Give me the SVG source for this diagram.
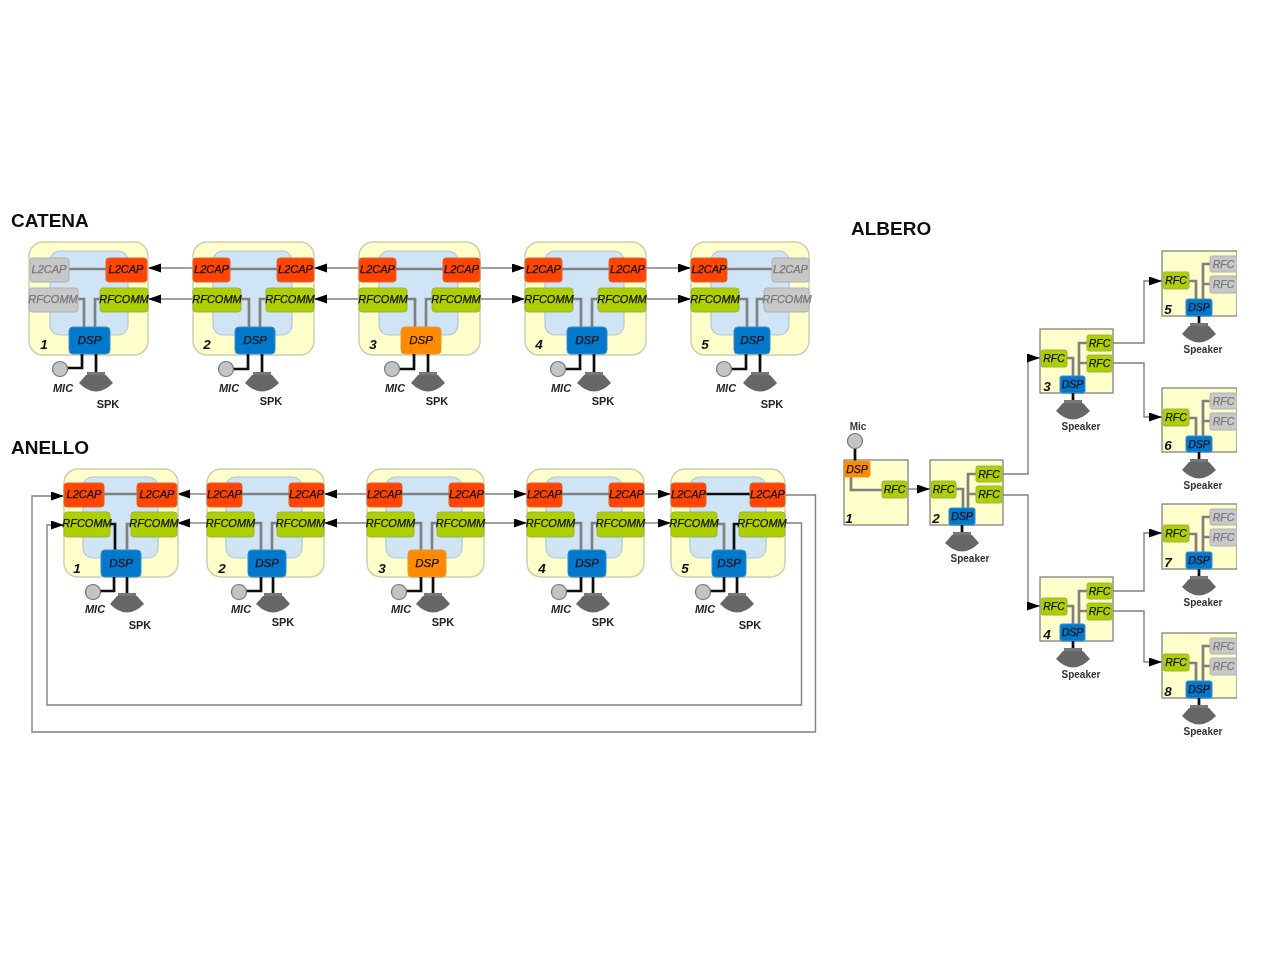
<svg xmlns="http://www.w3.org/2000/svg" width="1280" height="960" viewBox="0 0 1280 960">
<style>
text{font-family:"Liberation Sans",Arial,sans-serif;text-anchor:middle;fill:#111}
.t{font-size:19px;font-weight:bold;text-anchor:start}
.i{font-size:11px;font-style:italic;stroke:#111;stroke-width:.25}
.d{font-size:11.5px}
.r{font-size:10.5px}
.g{fill:#777;stroke:#777}
.n{font-size:13.5px;font-weight:bold;font-style:italic}
.m{font-size:11px;font-weight:bold;font-style:italic;fill:#222}
.s{font-size:11px;font-weight:bold;fill:#222}
.sp{font-size:10px;font-weight:bold;fill:#333}
.ou{fill:#ffffcc;stroke:#cfcfb0;stroke-width:1.5}
.sq{fill:#ffffcc;stroke:#777;stroke-width:1.2}
.in{fill:#cfe5f5;stroke:#b4c6d0;stroke-width:1.2}
.red{fill:#ff4400;stroke:#d9673f}
.grn{fill:#aed000;stroke:#9db050}
.blu{fill:#0078cc;stroke:#3d8fc4}
.org{fill:#ff8a00;stroke:#dd9a40}
.gry{fill:#c8c8c8;stroke:#b0b0b0}
.w{fill:none;stroke:#808080;stroke-width:2.7}
.k{fill:none;stroke:#111;stroke-width:2.7}
.c{fill:none;stroke:#808080;stroke-width:1.4}
.a{marker-end:url(#arr)}
.mc{fill:#c4c4c4;stroke:#777;stroke-width:1.2;r:7.5px}
</style>
<defs>
<marker id="arr" markerUnits="userSpaceOnUse" markerWidth="14" markerHeight="10" refX="13" refY="4.5" orient="auto"><path d="M0 0L13 4.5L0 9Z" fill="#000"/></marker>
<g id="spk"><rect x="-9" y="0" width="18" height="4" fill="#777"/><path d="M-10 3H10L17 11Q0 28 -17 11Z" fill="#666"/></g>
<filter id="b" x="0" y="0" width="100%" height="100%"><feGaussianBlur stdDeviation="0.35"/></filter>
</defs>
<g filter="url(#b)">
<g id="titles">
<text class="t" x="11" y="227">CATENA</text>
<text class="t" x="11" y="454">ANELLO</text>
<text class="t" x="851" y="235">ALBERO</text>
</g>

<g id="connectors">
<path class="c a" d="M193 268H148"/><path class="c a" d="M193 299H148"/>
<path class="c a" d="M359 268H314"/><path class="c a" d="M359 299H314"/>
<path class="c a" d="M480 268H525"/><path class="c a" d="M480 299H525"/>
<path class="c a" d="M646 268H691"/><path class="c a" d="M646 299H691"/>
<path class="c a" d="M207 494H177"/><path class="c a" d="M207 523H177"/>
<path class="c a" d="M367 494H324"/><path class="c a" d="M367 523H324"/>
<path class="c a" d="M484 494H527"/><path class="c a" d="M484 523H527"/>
<path class="c a" d="M644 494H671"/><path class="c a" d="M644 523H671"/>
<path class="c a" d="M785 495H815.500V732H32V496H64"/>
<path class="c a" d="M785 523H801.500V705H47V525H64"/>
<path class="c a" d="M907 489H930"/>
<path class="c a" d="M1003 474H1028V358H1040"/>
<path class="c a" d="M1003 495H1028V606H1040"/>
<path class="c a" d="M1113 343H1144V281H1162"/>
<path class="c a" d="M1113 363H1144V417H1162"/>
<path class="c a" d="M1113 591H1144V533H1162"/>
<path class="c a" d="M1113 611H1144V662H1162"/>
</g>

<g id="catena-1" transform="translate(29 242)">
<rect class="ou" x="0" y="0" width="119" height="113" rx="14"/><rect class="in" x="21" y="9" width="78" height="84" rx="10"/>
<path class="w" d="M40 27H78M49 57H55V85M71 57H66V85"/>
<rect class="gry" x="1" y="16" width="39" height="24" rx="3"/><text class="i g" x="20" y="31">L2CAP</text>
<rect class="red" x="77" y="16" width="41" height="24" rx="3"/><text class="i" x="97" y="31">L2CAP</text>
<rect class="gry" x="0" y="46" width="49" height="24" rx="3"/><text class="i g" x="24" y="61">RFCOMM</text>
<rect class="grn" x="71" y="46" width="48" height="24" rx="3"/><text class="i" x="95" y="61">RFCOMM</text>
<rect class="blu" x="40" y="85" width="41" height="27" rx="4"/><text class="i d" x="60.500" y="102">DSP</text>
<text class="n" x="15" y="107">1</text>
<path class="k" d="M53 112V126H38M67 112V130"/><circle class="mc" cx="31" cy="127" r="7.500"/><use href="#spk" x="67" y="130"/>
<text class="m" x="34" y="150">MIC</text><text class="s" x="79" y="166">SPK</text>
</g>

<g id="catena-2" transform="translate(193 242)">
<rect class="ou" x="0" y="0" width="121" height="113" rx="14"/><rect class="in" x="20" y="9" width="79" height="84" rx="10"/>
<path class="w" d="M37 27H85M48 57H56V85M73 57H67V85"/>
<rect class="red" x="0" y="16" width="37" height="24" rx="3"/><text class="i" x="18.500" y="31">L2CAP</text>
<rect class="red" x="84" y="16" width="37" height="24" rx="3"/><text class="i" x="102.500" y="31">L2CAP</text>
<rect class="grn" x="0" y="46" width="48" height="24" rx="3"/><text class="i" x="24" y="61">RFCOMM</text>
<rect class="grn" x="73" y="46" width="48" height="24" rx="3"/><text class="i" x="97" y="61">RFCOMM</text>
<rect class="blu" x="42" y="85" width="40" height="27" rx="4"/><text class="i d" x="62" y="102">DSP</text>
<text class="n" x="14" y="107">2</text>
<path class="k" d="M55 112V127H40M69 112V130"/><circle class="mc" cx="33" cy="127" r="7.500"/><use href="#spk" x="69" y="130"/>
<text class="m" x="36" y="150">MIC</text><text class="s" x="78" y="163">SPK</text>
</g>

<g id="catena-3" transform="translate(359 242)">
<rect class="ou" x="0" y="0" width="121" height="113" rx="14"/><rect class="in" x="20" y="9" width="79" height="84" rx="10"/>
<path class="w" d="M37 27H85M48 57H56V85M73 57H67V85"/>
<rect class="red" x="0" y="16" width="37" height="24" rx="3"/><text class="i" x="18.500" y="31">L2CAP</text>
<rect class="red" x="84" y="16" width="37" height="24" rx="3"/><text class="i" x="102.500" y="31">L2CAP</text>
<rect class="grn" x="0" y="46" width="48" height="24" rx="3"/><text class="i" x="24" y="61">RFCOMM</text>
<rect class="grn" x="73" y="46" width="48" height="24" rx="3"/><text class="i" x="97" y="61">RFCOMM</text>
<rect class="org" x="42" y="85" width="40" height="27" rx="4"/><text class="i d" x="62" y="102">DSP</text>
<text class="n" x="14" y="107">3</text>
<path class="k" d="M55 112V127H40M69 112V130"/><circle class="mc" cx="33" cy="127" r="7.500"/><use href="#spk" x="69" y="130"/>
<text class="m" x="36" y="150">MIC</text><text class="s" x="78" y="163">SPK</text>
</g>

<g id="catena-4" transform="translate(525 242)">
<rect class="ou" x="0" y="0" width="121" height="113" rx="14"/><rect class="in" x="20" y="9" width="79" height="84" rx="10"/>
<path class="w" d="M37 27H85M48 57H56V85M73 57H67V85"/>
<rect class="red" x="0" y="16" width="37" height="24" rx="3"/><text class="i" x="18.500" y="31">L2CAP</text>
<rect class="red" x="84" y="16" width="37" height="24" rx="3"/><text class="i" x="102.500" y="31">L2CAP</text>
<rect class="grn" x="0" y="46" width="48" height="24" rx="3"/><text class="i" x="24" y="61">RFCOMM</text>
<rect class="grn" x="73" y="46" width="48" height="24" rx="3"/><text class="i" x="97" y="61">RFCOMM</text>
<rect class="blu" x="42" y="85" width="40" height="27" rx="4"/><text class="i d" x="62" y="102">DSP</text>
<text class="n" x="14" y="107">4</text>
<path class="k" d="M55 112V127H40M69 112V130"/><circle class="mc" cx="33" cy="127" r="7.500"/><use href="#spk" x="69" y="130"/>
<text class="m" x="36" y="150">MIC</text><text class="s" x="78" y="163">SPK</text>
</g>

<g id="catena-5" transform="translate(691 242)">
<rect class="ou" x="0" y="0" width="118" height="113" rx="14"/><rect class="in" x="20" y="9" width="78" height="84" rx="10"/>
<path class="w" d="M36 27H82M48 57H56V85M73 57H66V85"/>
<rect class="red" x="0" y="16" width="36" height="24" rx="3"/><text class="i" x="18" y="31">L2CAP</text>
<rect class="gry" x="81" y="16" width="37" height="24" rx="3"/><text class="i g" x="99.500" y="31">L2CAP</text>
<rect class="grn" x="0" y="46" width="48" height="24" rx="3"/><text class="i" x="24" y="61">RFCOMM</text>
<rect class="gry" x="73" y="46" width="45" height="24" rx="3"/><text class="i g" x="96" y="61">RFCOMM</text>
<rect class="blu" x="43" y="85" width="36" height="27" rx="4"/><text class="i d" x="61" y="102">DSP</text>
<text class="n" x="14" y="107">5</text>
<path class="k" d="M55 112V127H40M69 112V130"/><circle class="mc" cx="33" cy="127" r="7.500"/><use href="#spk" x="69" y="130"/>
<text class="m" x="35" y="150">MIC</text><text class="s" x="81" y="166">SPK</text>
</g>

<g id="anello-1" transform="translate(64 469)">
<rect class="ou" x="0" y="0" width="114" height="108" rx="14"/><rect class="in" x="19" y="8" width="75" height="81" rx="10"/>
<path class="w" d="M40 25H74M67 55H63V81"/><path class="k" d="M46 55H51V81"/>
<rect class="red" x="0" y="14" width="40" height="24" rx="3"/><text class="i" x="20" y="29">L2CAP</text>
<rect class="red" x="73" y="14" width="40" height="24" rx="3"/><text class="i" x="93" y="29">L2CAP</text>
<rect class="grn" x="0" y="43" width="46" height="25" rx="3"/><text class="i" x="23" y="58">RFCOMM</text>
<rect class="grn" x="67" y="43" width="46" height="25" rx="3"/><text class="i" x="90" y="58">RFCOMM</text>
<rect class="blu" x="37" y="81" width="40" height="27" rx="4"/><text class="i d" x="57" y="98">DSP</text>
<text class="n" x="13" y="104">1</text>
<path class="k" d="M50 108V122H36M63 108V124"/><circle class="mc" cx="29" cy="123" r="7.500"/><use href="#spk" x="63" y="124"/>
<text class="m" x="31" y="144">MIC</text><text class="s" x="76" y="160">SPK</text>
</g>

<g id="anello-2" transform="translate(207 469)">
<rect class="ou" x="0" y="0" width="117" height="108" rx="14"/><rect class="in" x="19" y="8" width="76" height="81" rx="10"/>
<path class="w" d="M35 25H82M47 54H54V81M70 54H65V81"/>
<rect class="red" x="0" y="14" width="35" height="24" rx="3"/><text class="i" x="17.500" y="29">L2CAP</text>
<rect class="red" x="82" y="14" width="35" height="24" rx="3"/><text class="i" x="99.500" y="29">L2CAP</text>
<rect class="grn" x="0" y="43" width="47" height="25" rx="3"/><text class="i" x="23.500" y="58">RFCOMM</text>
<rect class="grn" x="70" y="43" width="47" height="25" rx="3"/><text class="i" x="93.500" y="58">RFCOMM</text>
<rect class="blu" x="41" y="81" width="38" height="27" rx="4"/><text class="i d" x="60" y="98">DSP</text>
<text class="n" x="15" y="104">2</text>
<path class="k" d="M54 108V122H39M66 108V124"/><circle class="mc" cx="32" cy="123" r="7.500"/><use href="#spk" x="66" y="124"/>
<text class="m" x="34" y="144">MIC</text><text class="s" x="76" y="157">SPK</text>
</g>

<g id="anello-3" transform="translate(367 469)">
<rect class="ou" x="0" y="0" width="117" height="108" rx="14"/><rect class="in" x="19" y="8" width="76" height="81" rx="10"/>
<path class="w" d="M35 25H82M47 54H54V81M70 54H65V81"/>
<rect class="red" x="0" y="14" width="35" height="24" rx="3"/><text class="i" x="17.500" y="29">L2CAP</text>
<rect class="red" x="82" y="14" width="35" height="24" rx="3"/><text class="i" x="99.500" y="29">L2CAP</text>
<rect class="grn" x="0" y="43" width="47" height="25" rx="3"/><text class="i" x="23.500" y="58">RFCOMM</text>
<rect class="grn" x="70" y="43" width="47" height="25" rx="3"/><text class="i" x="93.500" y="58">RFCOMM</text>
<rect class="org" x="41" y="81" width="38" height="27" rx="4"/><text class="i d" x="60" y="98">DSP</text>
<text class="n" x="15" y="104">3</text>
<path class="k" d="M54 108V122H39M66 108V124"/><circle class="mc" cx="32" cy="123" r="7.500"/><use href="#spk" x="66" y="124"/>
<text class="m" x="34" y="144">MIC</text><text class="s" x="76" y="157">SPK</text>
</g>

<g id="anello-4" transform="translate(527 469)">
<rect class="ou" x="0" y="0" width="117" height="108" rx="14"/><rect class="in" x="19" y="8" width="76" height="81" rx="10"/>
<path class="w" d="M35 25H82M47 54H54V81M70 54H65V81"/>
<rect class="red" x="0" y="14" width="35" height="24" rx="3"/><text class="i" x="17.500" y="29">L2CAP</text>
<rect class="red" x="82" y="14" width="35" height="24" rx="3"/><text class="i" x="99.500" y="29">L2CAP</text>
<rect class="grn" x="0" y="43" width="47" height="25" rx="3"/><text class="i" x="23.500" y="58">RFCOMM</text>
<rect class="grn" x="70" y="43" width="47" height="25" rx="3"/><text class="i" x="93.500" y="58">RFCOMM</text>
<rect class="blu" x="41" y="81" width="38" height="27" rx="4"/><text class="i d" x="60" y="98">DSP</text>
<text class="n" x="15" y="104">4</text>
<path class="k" d="M54 108V122H39M66 108V124"/><circle class="mc" cx="32" cy="123" r="7.500"/><use href="#spk" x="66" y="124"/>
<text class="m" x="34" y="144">MIC</text><text class="s" x="76" y="157">SPK</text>
</g>

<g id="anello-5" transform="translate(671 469)">
<rect class="ou" x="0" y="0" width="114" height="108" rx="14"/><rect class="in" x="19" y="8" width="76" height="81" rx="10"/>
<path class="w" d="M46 55H53V81"/><path class="k" d="M35 25H80M68 55H63V81"/>
<rect class="red" x="0" y="14" width="35" height="24" rx="3"/><text class="i" x="17.500" y="29">L2CAP</text>
<rect class="red" x="79" y="14" width="35" height="24" rx="3"/><text class="i" x="96.500" y="29">L2CAP</text>
<rect class="grn" x="0" y="43" width="46" height="25" rx="3"/><text class="i" x="23" y="58">RFCOMM</text>
<rect class="grn" x="68" y="43" width="46" height="25" rx="3"/><text class="i" x="91" y="58">RFCOMM</text>
<rect class="blu" x="41" y="81" width="34" height="27" rx="4"/><text class="i d" x="58" y="98">DSP</text>
<text class="n" x="14" y="104">5</text>
<path class="k" d="M53 108V122H39M66 108V124"/><circle class="mc" cx="32" cy="123" r="7.500"/><use href="#spk" x="66" y="124"/>
<text class="m" x="34" y="144">MIC</text><text class="s" x="79" y="160">SPK</text>
</g>

<g id="albero-1" transform="translate(844 460)">
<rect class="sq" x="0" y="0" width="64" height="65"/>
<path class="k" d="M11 -12V2"/><circle class="mc" cx="11" cy="-19" r="7.500"/>
<path class="w" d="M7 16V30H38"/>
<rect class="org" x="0" y="1" width="26" height="16" rx="2"/><text class="i r" x="13" y="13">DSP</text>
<rect class="grn" x="38" y="21" width="25" height="17" rx="2"/><text class="i r" x="50.500" y="33">RFC</text>
<text class="n" x="5" y="63">1</text>
<text class="sp" x="14" y="-30">Mic</text>
</g>

<g id="albero-2" transform="translate(930 460)">
<rect class="sq" x="0" y="0" width="73" height="65"/>
<path class="w" d="M26 29H33V48M38 48V14H46M38 34H46"/>
<rect class="grn" x="1" y="21" width="25" height="17" rx="2"/><text class="i r" x="13.500" y="33">RFC</text>
<rect class="grn" x="46" y="6" width="26" height="16" rx="2"/><text class="i r" x="59" y="18">RFC</text>
<rect class="grn" x="46" y="26" width="26" height="17" rx="2"/><text class="i r" x="59" y="38">RFC</text>
<rect class="blu" x="19" y="48" width="26" height="17" rx="2"/><text class="i r" x="32" y="60">DSP</text>
<text class="n" x="6" y="63">2</text>
<path class="k" d="M32 65V73"/><use href="#spk" x="32" y="72"/>
<text class="sp" x="40" y="102">Speaker</text>
</g>

<g id="albero-3" transform="translate(1040 329)">
<rect class="sq" x="0" y="0" width="73" height="64"/>
<path class="w" d="M26 29H33V48M39 48V14H47M39 34H47"/>
<rect class="grn" x="1" y="21" width="26" height="17" rx="2"/><text class="i r" x="14" y="33">RFC</text>
<rect class="grn" x="47" y="6" width="25" height="16" rx="2"/><text class="i r" x="59.500" y="18">RFC</text>
<rect class="grn" x="47" y="26" width="25" height="17" rx="2"/><text class="i r" x="59.500" y="38">RFC</text>
<rect class="blu" x="20" y="47" width="25" height="17" rx="2"/><text class="i r" x="32.500" y="59">DSP</text>
<text class="n" x="7" y="62">3</text>
<path class="k" d="M33 64V72"/><use href="#spk" x="33" y="71"/>
<text class="sp" x="41" y="101">Speaker</text>
</g>

<g id="albero-4" transform="translate(1040 577)">
<rect class="sq" x="0" y="0" width="73" height="64"/>
<path class="w" d="M26 29H33V48M39 48V14H47M39 34H47"/>
<rect class="grn" x="1" y="21" width="26" height="17" rx="2"/><text class="i r" x="14" y="33">RFC</text>
<rect class="grn" x="47" y="6" width="25" height="16" rx="2"/><text class="i r" x="59.500" y="18">RFC</text>
<rect class="grn" x="47" y="26" width="25" height="17" rx="2"/><text class="i r" x="59.500" y="38">RFC</text>
<rect class="blu" x="20" y="47" width="25" height="17" rx="2"/><text class="i r" x="32.500" y="59">DSP</text>
<text class="n" x="7" y="62">4</text>
<path class="k" d="M33 64V72"/><use href="#spk" x="33" y="71"/>
<text class="sp" x="41" y="101">Speaker</text>
</g>

<g id="albero-5" transform="translate(1162 251)">
<rect class="sq" x="0" y="0" width="75" height="65"/>
<path class="w" d="M26 30H34V48M41 48V13H49M41 33H49"/>
<rect class="grn" x="1" y="21" width="26" height="17" rx="2"/><text class="i r" x="14" y="33">RFC</text>
<rect class="gry" x="48" y="5" width="27" height="16" rx="2"/><text class="i r g" x="61.500" y="17">RFC</text>
<rect class="gry" x="48" y="25" width="27" height="17" rx="2"/><text class="i r g" x="61.500" y="37">RFC</text>
<rect class="blu" x="24" y="48" width="26" height="17" rx="2"/><text class="i r" x="37" y="60">DSP</text>
<text class="n" x="6" y="63">5</text>
<path class="k" d="M37 65V73"/><use href="#spk" x="37" y="72"/>
<text class="sp" x="41" y="102">Speaker</text>
</g>

<g id="albero-6" transform="translate(1162 388)">
<rect class="sq" x="0" y="0" width="75" height="64"/>
<path class="w" d="M26 30H34V48M41 48V13H49M41 33H49"/>
<rect class="grn" x="1" y="21" width="26" height="17" rx="2"/><text class="i r" x="14" y="33">RFC</text>
<rect class="gry" x="48" y="5" width="27" height="16" rx="2"/><text class="i r g" x="61.500" y="17">RFC</text>
<rect class="gry" x="48" y="25" width="27" height="17" rx="2"/><text class="i r g" x="61.500" y="37">RFC</text>
<rect class="blu" x="24" y="48" width="26" height="16" rx="2"/><text class="i r" x="37" y="60">DSP</text>
<text class="n" x="6" y="62">6</text>
<path class="k" d="M37 64V72"/><use href="#spk" x="37" y="71"/>
<text class="sp" x="41" y="101">Speaker</text>
</g>

<g id="albero-7" transform="translate(1162 504)">
<rect class="sq" x="0" y="0" width="75" height="65"/>
<path class="w" d="M26 30H34V48M41 48V13H49M41 33H49"/>
<rect class="grn" x="1" y="21" width="26" height="17" rx="2"/><text class="i r" x="14" y="33">RFC</text>
<rect class="gry" x="48" y="5" width="27" height="16" rx="2"/><text class="i r g" x="61.500" y="17">RFC</text>
<rect class="gry" x="48" y="25" width="27" height="17" rx="2"/><text class="i r g" x="61.500" y="37">RFC</text>
<rect class="blu" x="24" y="48" width="26" height="17" rx="2"/><text class="i r" x="37" y="60">DSP</text>
<text class="n" x="6" y="63">7</text>
<path class="k" d="M37 65V73"/><use href="#spk" x="37" y="72"/>
<text class="sp" x="41" y="102">Speaker</text>
</g>

<g id="albero-8" transform="translate(1162 633)">
<rect class="sq" x="0" y="0" width="75" height="65"/>
<path class="w" d="M26 30H34V48M41 48V13H49M41 33H49"/>
<rect class="grn" x="1" y="21" width="26" height="17" rx="2"/><text class="i r" x="14" y="33">RFC</text>
<rect class="gry" x="48" y="5" width="27" height="16" rx="2"/><text class="i r g" x="61.500" y="17">RFC</text>
<rect class="gry" x="48" y="25" width="27" height="17" rx="2"/><text class="i r g" x="61.500" y="37">RFC</text>
<rect class="blu" x="24" y="48" width="26" height="17" rx="2"/><text class="i r" x="37" y="60">DSP</text>
<text class="n" x="6" y="63">8</text>
<path class="k" d="M37 65V73"/><use href="#spk" x="37" y="72"/>
<text class="sp" x="41" y="102">Speaker</text>
</g>
</g>
</svg>
